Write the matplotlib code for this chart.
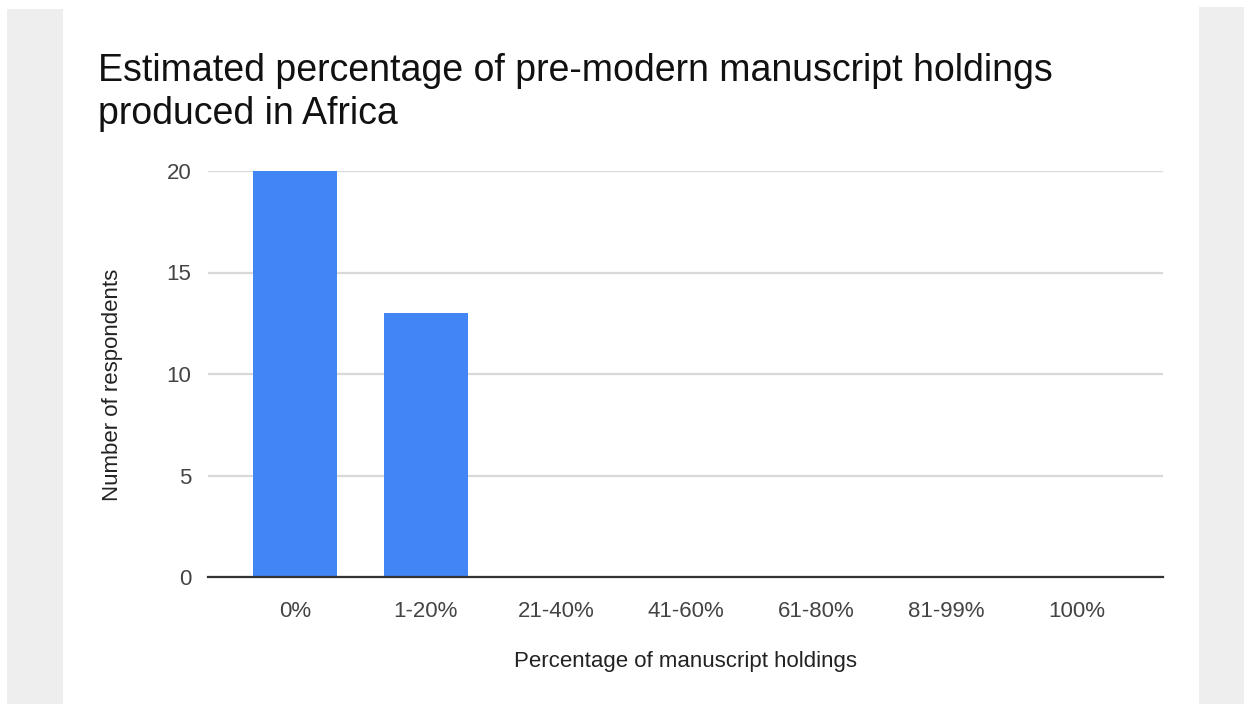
import matplotlib.pyplot as plt
from matplotlib.patches import Rectangle
import numpy as np

plt.rcParams['font.family'] = ['Liberation Sans', 'DejaVu Sans']

categories = ["0%", "1-20%", "21-40%", "41-60%", "61-80%", "81-99%", "100%"]
respondents = [20, 13, 0, 0, 0, 0, 0]

fig = plt.figure(figsize=(12.44, 7.04), dpi=100, facecolor='white')

# grey page margins of the screenshot
fig.patches.append(Rectangle((7/1244, 0), 56/1244, 695/704, transform=fig.transFigure,
                             facecolor='#eeeeee', edgecolor='none', zorder=0))
fig.patches.append(Rectangle((1199/1244, 0), 45/1244, 697/704, transform=fig.transFigure,
                             facecolor='#eeeeee', edgecolor='none', zorder=0))

ax = fig.add_axes([208/1244, 127/704, 955/1244, 406/704])
ax.set_facecolor('none')

x = np.arange(len(categories))
ax.bar(x, respondents, width=0.645, color='#4285f4', zorder=3)

ax.set_xlim(-0.67, 6.66)
ax.set_ylim(0, 20)
ax.set_yticks([0, 5, 10, 15, 20])
ax.set_xticks(x)
ax.set_xticklabels(categories)
ax.grid(axis='y', color='#d9d9d9', linewidth=1.6, zorder=0)
ax.tick_params(axis='both', length=0, labelsize=16, labelcolor='#444444')
ax.tick_params(axis='y', pad=12)
ax.tick_params(axis='x', pad=17)

for s in ['top', 'right', 'left']:
    ax.spines[s].set_visible(False)
ax.spines['bottom'].set_color('#333333')
ax.spines['bottom'].set_linewidth(1.6)
ax.spines['bottom'].set_zorder(4)

ax.set_xlabel("Percentage of manuscript holdings", fontsize=16, color='#222222')
ax.xaxis.label.set_va('center')
ax.xaxis.set_label_coords(0.5, -0.209)
ax.set_ylabel("Number of respondents", fontsize=16, color='#222222')
ax.yaxis.label.set_va('center')
ax.yaxis.set_label_coords(-0.0995, 0.473)

fig.text(98/1244, 1 - 53/704, "Estimated percentage of pre-modern manuscript holdings\nproduced in Africa",
         fontsize=27, color='#111111', ha='left', va='top', linespacing=1.24)

fig.savefig("out.png", dpi=100, facecolor=fig.get_facecolor())
